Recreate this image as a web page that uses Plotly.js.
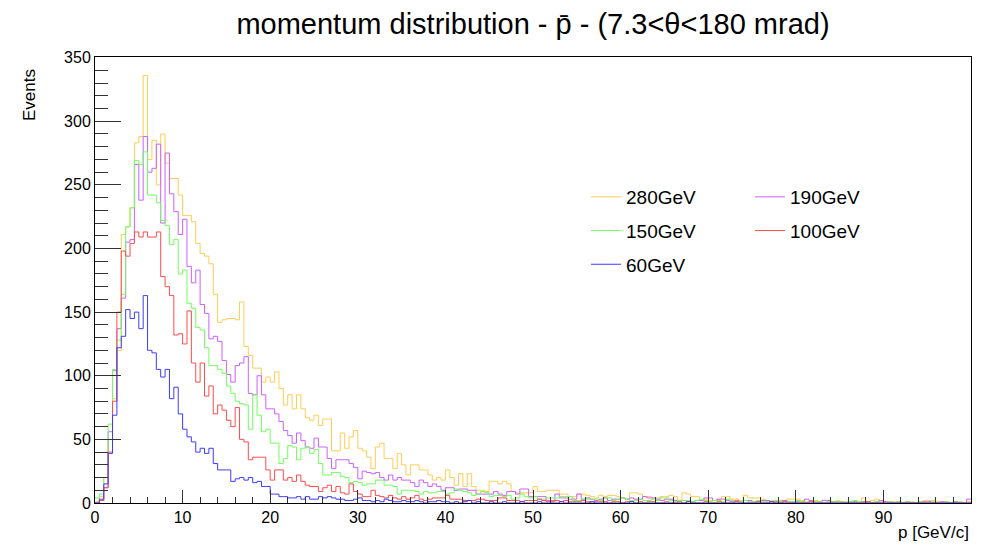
<!DOCTYPE html>
<html>
<head>
<meta charset="utf-8">
<script src="https://cdn.plot.ly/plotly-3.0.1.min.js"></script>
<style>html,body{margin:0;padding:0;background:#fff;}#chart{width:997px;height:545px;}</style>
</head>
<body>
<div id="chart"></div>
<script>
// Histogram: 200 bins of 0.5 GeV/c from 0 to 100
const binLow = 0, binWidth = 0.5;
const seriesNames = ["280GeV", "190GeV", "150GeV", "100GeV", "60GeV"];
const xTickLabels = ["0","10","20","30","40","50","60","70","80","90"];

const v280 = [
1,5,20,50,82,120,211,217,232,283,
288,336,270,285,250,290,267,255,255,242,
226,226,221,204,196,194,188,164,142,144,
145,145,144,158,123,116,106,106,95,99,
95,103,90,77,85,74,85,74,67,65,
69,61,66,66,41,41,55,43,52,57,
43,41,36,27,44,47,35,35,27,39,
30,22,30,30,26,26,22,18,20,18,
26,20,14,23,13,23,13,10,10,9,
17,17,15,17,15,9,8,8,8,8,
13,9,9,10,10,10,7,7,5,5,
7,7,6,5,4,6,5,6,6,5,
4,3,8,8,7,5,5,4,4,5,
5,6,5,2,8,7,5,5,2,3,
2,2,3,5,5,3,3,2,6,4,
4,4,3,2,2,1,2,2,3,3,
3,2,1,2,2,1,2,2,1,2,
1,1,0,1,1,4,1,2,3,1,
1,0,1,1,0,1,1,0,1,2,
2,2,1,0,1,0,1,0,0,1];

const v190 = [
0,2,12,56,104,137,161,205,207,266,
238,288,260,263,282,220,275,243,229,211,
223,186,173,183,156,149,129,131,127,112,
101,95,108,110,115,86,85,100,85,74,
74,70,64,57,53,47,55,49,44,43,
51,44,44,35,27,34,34,34,31,28,
19,25,24,23,24,20,18,22,18,20,
18,18,16,13,18,16,13,15,13,10,
12,12,10,11,11,10,10,7,7,7,
7,9,7,6,9,9,7,11,11,5,
5,5,5,2,2,7,4,4,3,3,
7,3,4,3,2,3,4,2,3,3,
4,3,4,3,3,5,4,4,3,2,
3,3,2,2,2,2,1,2,2,4,
4,2,3,3,2,1,2,1,2,2,
1,1,2,2,1,1,1,2,1,1,
1,1,3,2,1,1,2,2,1,1,
1,0,1,1,0,1,1,0,1,2,
1,1,0,1,0,1,0,0,1,1,
1,0,0,1,0,0,1,0,0,3];

const v150 = [
4,7,20,62,105,128,164,217,232,269,
266,276,242,242,236,222,218,203,207,180,
183,157,153,138,136,122,108,108,105,102,
92,86,80,78,77,58,85,69,56,58,
47,47,31,35,45,44,34,43,44,39,
42,31,22,22,24,24,21,20,16,17,
16,14,15,15,18,18,14,14,13,7,
10,10,10,9,7,9,8,8,9,9,
7,8,11,10,9,8,6,7,9,8,
5,6,6,5,6,3,4,7,5,4,
5,3,3,4,4,4,5,5,5,2,
2,3,3,3,3,2,4,4,2,3,
4,3,2,2,3,2,2,3,2,4,
4,2,1,2,2,2,1,2,3,2,
1,2,2,1,3,2,1,1,2,1,
1,2,1,1,1,2,1,1,1,1,
2,1,0,1,1,1,0,1,1,1,
1,0,1,2,1,0,1,0,1,0,
0,1,0,1,0,1,0,0,1,0,
0,1,0,0,1,0,0,1,0,0];

const v100 = [
0,2,12,40,80,150,198,194,204,213,
209,213,209,209,213,178,170,163,132,133,
125,151,110,95,110,84,92,70,77,73,
65,60,75,50,48,34,36,36,36,26,
18,26,26,18,20,17,22,17,14,13,
13,9,12,14,9,13,8,7,15,9,
7,5,5,10,6,5,4,6,4,3,
5,3,4,6,3,2,3,4,4,4,
6,3,3,3,2,2,2,3,3,2,
2,2,4,4,2,2,2,1,2,2,
2,3,2,1,1,2,1,2,1,1,
1,2,1,0,1,1,1,0,1,1,
0,1,1,0,1,0,1,1,0,0,
1,0,0,1,0,1,0,0,0,1,
0,0,1,0,0,0,1,0,0,0,
0,1,0,0,0,0,0,1,0,0,
0,0,0,1,0,0,0,0,0,0,
0,0,0,0,0,0,1,0,0,0,
0,0,0,0,0,0,0,0,0,0,
0,0,0,0,0,0,0,0,0,0];

const v60 = [
0,3,15,39,69,122,131,152,145,150,
137,163,120,118,105,99,105,82,91,70,
58,52,48,40,43,39,43,31,26,26,
26,17,19,20,18,20,16,17,13,13,
7,7,5,5,4,4,5,3,5,3,
3,5,4,5,4,3,3,2,2,3,
4,2,2,1,2,1,3,2,1,1,
2,1,1,2,1,0,1,1,2,1,
1,0,1,0,1,2,0,1,0,0,
1,0,0,1,0,0,0,1,0,0,
0,1,0,0,0,0,1,0,0,0,
0,0,0,1,0,0,0,0,0,0,
0,0,1,0,0,0,0,0,0,0,
0,0,0,0,0,1,0,0,0,0,
0,0,0,0,0,0,0,0,0,0,
0,0,0,0,1,0,0,0,0,0,
0,0,0,0,0,0,0,0,0,0,
0,0,0,0,0,0,0,0,0,0,
0,0,0,0,0,0,0,0,0,0,
0,0,0,0,0,0,0,0,0,0];

const seriesValues = [v280, v190, v150, v100, v60];
const colors = ["#ffcc55", "#cc60ff", "#70ff60", "#ff4c4c", "#3c3cff"];
const legendOf = ["legend", "legend2", "legend", "legend2", "legend"];

function stepTrace(vals, name, color, lg) {
  const x = [], y = [];
  for (let i = 0; i < vals.length; i++) { x.push(binLow + i * binWidth); y.push(vals[i]); }
  x.push(binLow + vals.length * binWidth); y.push(vals[vals.length - 1]);
  return {x: x, y: y, type: "scatter", mode: "lines", name: name,
    line: {shape: "hv", width: 1, color: color}, legend: lg, legendgroup: name,
    hoverinfo: "x+y"};
}

const data = seriesValues.map((v, k) => stepTrace(v, seriesNames[k], colors[k], legendOf[k]));

const font = "Liberation Sans, Arial, Helvetica, sans-serif";
const layout = {
  width: 997, height: 545,
  margin: {l: 95, r: 26, t: 57, b: 42},
  paper_bgcolor: "#fff", plot_bgcolor: "#fff",
  font: {family: font, color: "#000", size: 16},
  title: {text: "momentum distribution - p\u0304 - (7.3<\u03b8<180 mrad)", font: {family: font, size: 29, color: "#000"},
    x: 0.5, xref: "paper", xanchor: "center", y: 0.956, yref: "container", yanchor: "middle"},
  showlegend: true,
  xaxis: {range: [0, 100], tickmode: "array", tickvals: [0,10,20,30,40,50,60,70,80,90], ticktext: xTickLabels,
    ticks: "inside", ticklen: 13, tickcolor: "#333", tickwidth: 1,
    minor: {tickmode: "linear", tick0: 0, dtick: 2, ticks: "inside", ticklen: 6.5, tickcolor: "#333", showgrid: false},
    showgrid: false, zeroline: false, showline: true, linecolor: "#000", linewidth: 1, mirror: true,
    tickfont: {size: 16}, fixedrange: true},
  yaxis: {range: [0, 350.5], tickmode: "linear", tick0: 0, dtick: 50,
    ticks: "inside", ticklen: 26, tickcolor: "#333", tickwidth: 1,
    minor: {tickmode: "linear", tick0: 0, dtick: 10, ticks: "inside", ticklen: 13, tickcolor: "#333", showgrid: false},
    showgrid: false, zeroline: false, showline: true, linecolor: "#000", linewidth: 1, mirror: true,
    tickfont: {size: 16}, fixedrange: true},
  legend: {xref: "paper", yref: "paper", xanchor: "left", yanchor: "top",
    orientation: "v", bgcolor: "rgba(0,0,0,0)", borderwidth: 0, font: {size: 19, family: font},
    tracegroupgap: 6, itemwidth: 30, traceorder: "grouped"},
  legend2: {xref: "paper", yref: "paper", xanchor: "left", yanchor: "top",
    orientation: "v", bgcolor: "rgba(0,0,0,0)", borderwidth: 0, font: {size: 19, family: font},
    tracegroupgap: 6, itemwidth: 30, traceorder: "grouped"},
  annotations: [
    {text: "Events", xref: "paper", yref: "paper", x: -0.074, y: 0.915, textangle: -90, showarrow: false,
      font: {size: 17, family: font}, xanchor: "center", yanchor: "middle"},
    {text: "p [GeV/c]", xref: "paper", yref: "paper", x: 1.0, y: -0.067, showarrow: false,
      font: {size: 17, family: font}, xanchor: "right", yanchor: "middle"}
  ]
};
// place legends near the reference position (pixel based, converted to paper units)
const plotW = 997 - 95 - 26, plotH = 545 - 57 - 42;
layout.legend.x = (586 - 95) / plotW;
layout.legend.y = (503 - 178) / plotH;
layout.legend2.x = (750 - 95) / plotW;
layout.legend2.y = (503 - 178) / plotH;

Plotly.newPlot("chart", data, layout, {staticPlot: true, displayModeBar: false});
</script>
</body>
</html>
